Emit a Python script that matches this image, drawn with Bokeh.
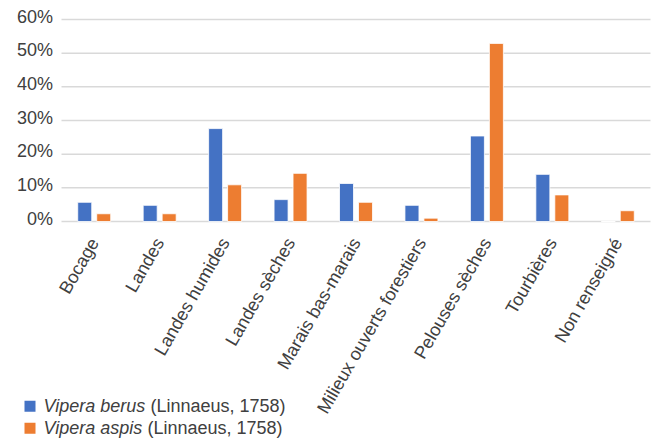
import math
from bokeh.plotting import figure
from bokeh.models import ColumnDataSource, Range1d, Label, BoxAnnotation
from bokeh.core.properties import value
from bokeh.embed import file_html
from bokeh.resources import INLINE

categories = ["Bocage", "Landes", "Landes humides", "Landes sèches", "Marais bas-marais",
              "Milieux ouverts forestiers", "Pelouses sèches", "Tourbières", "Non renseigné"]
berus = [5.7, 4.8, 27.6, 6.5, 11.3, 4.8, 25.4, 14.0, 0.0]
aspis = [2.3, 2.3, 10.9, 14.3, 5.7, 1.0, 52.9, 7.9, 3.2]
y_ticks = [0, 10, 20, 30, 40, 50, 60]
series_names = ["Vipera berus", "Vipera aspis"]
series_author = "(Linnaeus, 1758)"

BLUE = "#4472C4"
ORANGE = "#ED7D31"
GRID = "#d9d9d9"
FONT = "Liberation Sans"
TXT = "#404040"
W, H = 652, 438

# pixel layout of the plotting area inside the canvas
PLOT_L, PLOT_R, PLOT_B, PLOT_T = 61, 650, 221, 19
n = len(categories)
xs = (PLOT_R - PLOT_L) / n                 # px per category
ys = (PLOT_B - PLOT_T) / y_ticks[-1]       # px per percent
x_range = Range1d(-PLOT_L / xs, n + (W - PLOT_R) / xs)
y_range = Range1d(-(H - PLOT_B) / ys, y_ticks[-1] + PLOT_T / ys)

centers = [i + 0.5 for i in range(n)]
OFF, BW = 0.145, 0.214

bars = ColumnDataSource(dict(xb=[c - OFF for c in centers], xa=[c + OFF for c in centers],
                             berus=berus, aspis=aspis))
xlab = ColumnDataSource(dict(x=centers, y=[0] * n, text=categories))
ylab = ColumnDataSource(dict(x=[0] * len(y_ticks), y=y_ticks,
                             text=["%d%%" % t for t in y_ticks]))
grid = ColumnDataSource(dict(x0=[0] * len(y_ticks), x1=[n] * len(y_ticks), y=y_ticks))

p = figure(width=W, height=H, x_range=x_range, y_range=y_range,
           output_backend="svg", toolbar_location=None,
           x_axis_type=None, y_axis_type=None, min_border=0)
p.outline_line_color = None
p.grid.visible = False

p.segment(x0="x0", x1="x1", y0="y", y1="y", source=grid, line_color=GRID, line_width=1.5)

p.vbar(x="xb", top="berus", width=BW, source=bars, fill_color=BLUE,
       line_color="white", line_width=0.8)
p.vbar(x="xa", top="aspis", width=BW, source=bars, fill_color=ORANGE,
       line_color="white", line_width=0.8)

# y tick labels
p.text(x="x", y="y", text="text", source=ylab, x_offset=-8.5, y_offset=-3,
       text_align="right", text_baseline="middle", text_font=value(FONT),
       text_font_size="18px", text_color=TXT)

# x category labels (rotated)
p.text(x="x", y="y", text="text", source=xlab, angle=math.radians(60), x_offset=0, y_offset=18,
       text_align="right", text_baseline="middle", text_font=value(FONT),
       text_font_size="18px", text_color=TXT)

# legend (frame covers the full canvas; screen units measured from bottom-left)
for i, (name, color, paren_x) in enumerate(zip(series_names, [BLUE, ORANGE], [150, 147])):
    cy = 405.7 + 22 * i
    p.add_layout(BoxAnnotation(left=24, right=35, top=H - (cy - 5.5), bottom=H - (cy + 5.5),
                               left_units="screen", right_units="screen",
                               top_units="screen", bottom_units="screen",
                               fill_color=color, fill_alpha=1, line_color=None))
    p.add_layout(Label(x=43, y=H - cy, x_units="screen", y_units="screen", text=name,
                       text_font=FONT, text_font_style="italic", text_font_size="18px",
                       text_color=TXT, text_baseline="middle"))
    p.add_layout(Label(x=paren_x, y=H - cy, x_units="screen", y_units="screen",
                       text=series_author, text_font=FONT, text_font_size="18px",
                       text_color=TXT, text_baseline="middle"))

open("out.html", "w").write(file_html(p, INLINE))
